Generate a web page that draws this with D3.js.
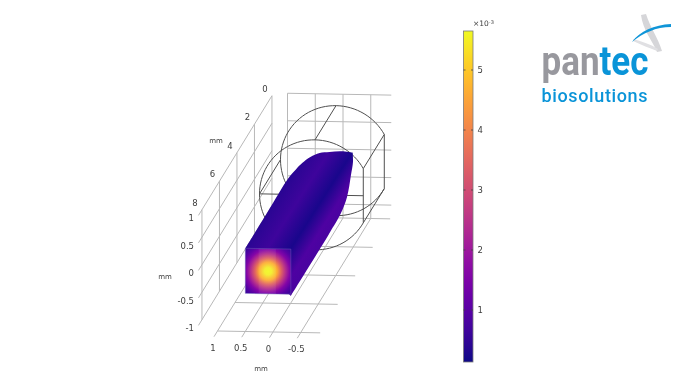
<!DOCTYPE html>
<html lang="en">
<head>
  <title>Pantec biosolutions temperature plot</title>
  <meta charset="UTF-8">
  <script src="https://cdn.jsdelivr.net/npm/d3@7"></script>
  <style>
  html, body { margin: 0; padding: 0; background: #fff; }
  svg { display: block; filter: blur(0.4px); }
  text { font-family: "DejaVu Sans", sans-serif; fill: #3c3c3c; }
  </style>
</head>
<body>
<svg id="chart" width="684" height="384"></svg>
<script>
// tick labels
const xTicks = [1, 0.5, 0, -0.5];
const yTicks = [0, 2, 4, 6, 8];
const zTicks = [1, 0.5, 0, -0.5, -1];
const colorTicks = [1, 2, 3, 4, 5];

// colour range of the legend, in 10^-3
const colorDomain = [0.133, 5.65];

// values across the long side of the bar (left edge to right edge)
const sideValues = [0.41, 0.63, 0.24, 0.85, 0.8];
const sideOffsets = [0, 0.3, 0.61, 0.85, 1];

// values of the front face, centre to corner
const faceValues = [5.65, 5.5, 4.6, 3.4, 2.4, 1.6, 1.0, 0.65];
const faceOffsets = [0, 0.12, 0.3, 0.44, 0.58, 0.72, 0.87, 1];

// bar section and outline in mm [x, y, z]
const faceHalf = 0.41;
const faceY = 8.56;
const bodyTop = [[0.41, 8.56, 0.41], [0.41, 6, 0.41], [0.41, 3.63, 0.41], [0.37, 2.99, 0.41], [0.33, 2.57, 0.41], [0.25, 2.14, 0.41], [0.13, 1.85, 0.41], [-0.036, 1.77, 0.41], [-0.245, 1.71, 0.41], [-0.41, 1.49, 0.33]];
const bodyRight = [[-0.41, 1.49, 0.33], [-0.41, 1.46, 0.154], [-0.41, 1.69, -0.023], [-0.41, 2.14, -0.306], [-0.41, 2.83, -0.419], [-0.41, 4.2, -0.444], [-0.41, 8.57, -0.44]];

// cylinder wireframe
const cylRadius = 1;
const cylFlatX = -0.87;
const cylBackY = 0.8;
const cylFrontY = 3.2;

// grid box limits
const wallX = 1.28;
const wallDrop = 0.05;
const floorZ = -1.25;
const gridYFar = 8.4;
const gridXEnd = -0.85;

const svg = d3.select('#chart');
const defs = svg.append('defs');

// oblique view: each axis has its own screen vector
const xH = d3.scaleLinear().domain([0, 1]).range([0, -55.5]);
const xV = d3.scaleLinear().domain([0, 1]).range([0, -1]);
const yH = d3.scaleLinear().domain([0, 1]).range([0, -8.75]);
const yV = d3.scaleLinear().domain([0, 1]).range([0, 14.25]);
const zV = d3.scaleLinear().domain([0, 1]).range([0, -55]);
const origin = [343, 149.25];
const project = ([x, y, z]) => [origin[0] + xH(x) + yH(y), origin[1] + xV(x) + yV(y) + zV(z)];
const line = d3.line().x(d => project(d)[0]).y(d => project(d)[1]);

const color = d3.scaleSequential(d3.interpolatePlasma).domain(colorDomain);

function segments(group, segs, stroke, width) {
  group.selectAll(null).data(segs).enter().append('path')
    .attr('d', d => line(d))
    .attr('fill', 'none')
    .attr('stroke', stroke)
    .attr('stroke-width', width);
}

// Grid
const grid = svg.append('g');
const gridSegs = [];
zTicks.forEach(z => gridSegs.push([[wallX, gridYFar, z - wallDrop], [wallX, 0, z - wallDrop]]));
yTicks.forEach(y => gridSegs.push([[wallX, y, 1 - wallDrop], [wallX, y, -1 - wallDrop]]));
yTicks.forEach(y => gridSegs.push([[1, y, floorZ], [gridXEnd, y, floorZ]]));
xTicks.forEach(x => gridSegs.push([[x, gridYFar, floorZ], [x, 0, floorZ]]));
zTicks.forEach(z => gridSegs.push([[1, 0, z], [gridXEnd - 0.02, 0, z]]));
xTicks.forEach(x => gridSegs.push([[x, 0, 1], [x, 0, floorZ]]));
segments(grid, gridSegs, '#b8b8b8', 1);

// Cylinder with one flat side
const flatAngle = Math.acos(cylFlatX / cylRadius);
const circleAngles = d3.range(-flatAngle, flatAngle + 0.001, (2 * flatAngle) / 80);
const cylOutline = y => circleAngles.map(a => [cylRadius * Math.cos(a), y, cylRadius * Math.sin(a)]);
const flatZ = Math.sqrt(cylRadius * cylRadius - cylFlatX * cylFlatX);
const wire = svg.append('g');
const wireSegs = [];
[cylBackY, cylFrontY].forEach(y => {
  const pts = cylOutline(y);
  wireSegs.push(pts.concat([pts[0]]));
});
wireSegs.push([[0, cylBackY, cylRadius], [0, cylFrontY, cylRadius]]);
wireSegs.push([[cylRadius, cylBackY, 0], [cylRadius, cylFrontY, 0]]);
wireSegs.push([[cylFlatX, cylBackY, flatZ], [cylFlatX, cylFrontY, flatZ]]);
wireSegs.push([[cylFlatX, cylBackY, -flatZ], [cylFlatX, cylFrontY, -flatZ]]);
wireSegs.push([[cylRadius, cylFrontY, 0], [cylFlatX, cylFrontY, 0]]);
segments(wire, wireSegs, '#4f4f4f', 1);

// Bar side, coloured across its width
const ridgeDir = [97, 62];
const ridgeLen = Math.hypot(ridgeDir[0], ridgeDir[1]);
const frontLeft = project([faceHalf, faceY, faceHalf]);
const frontRight = project([-faceHalf, faceY, -faceHalf]);
const distance = ((frontRight[0] - frontLeft[0]) * ridgeDir[0] + (frontRight[1] - frontLeft[1]) * ridgeDir[1]) / ridgeLen;
const sideGrad = defs.append('linearGradient').attr('id', 'side-grad')
  .attr('gradientUnits', 'userSpaceOnUse')
  .attr('x1', frontLeft[0]).attr('y1', frontLeft[1])
  .attr('x2', frontLeft[0] + distance * ridgeDir[0] / ridgeLen)
  .attr('y2', frontLeft[1] + distance * ridgeDir[1] / ridgeLen);
sideGrad.selectAll('stop').data(sideValues).enter().append('stop')
  .attr('offset', (d, i) => sideOffsets[i])
  .attr('stop-color', d => color(d));

const smooth = d3.line().x(d => project(d)[0]).y(d => project(d)[1]).curve(d3.curveCatmullRom.alpha(0.5));
svg.append('path')
  .attr('d', smooth(bodyTop) + smooth(bodyRight).replace('M', 'L') + 'Z')
  .attr('fill', 'url(#side-grad)');

// Front face
const faceCorners = [[faceHalf, faceY, faceHalf], [-faceHalf, faceY, faceHalf], [-faceHalf, faceY, -faceHalf], [faceHalf, faceY, -faceHalf]];
const faceCentre = project([0, faceY, 0]);
const faceGrad = defs.append('radialGradient').attr('id', 'face-grad')
  .attr('gradientUnits', 'userSpaceOnUse')
  .attr('cx', faceCentre[0]).attr('cy', faceCentre[1]).attr('r', 30);
faceGrad.selectAll('stop').data(faceValues).enter().append('stop')
  .attr('offset', (d, i) => faceOffsets[i])
  .attr('stop-color', d => color(d));
svg.append('path')
  .attr('d', line(faceCorners) + 'Z')
  .attr('fill', 'url(#face-grad)');
// lighter middle facet of the face
svg.append('path')
  .attr('d', line([[0.17, faceY, faceHalf], [-0.14, faceY, faceHalf], [-0.14, faceY, -faceHalf], [0.17, faceY, -faceHalf]]) + 'Z')
  .attr('fill', '#fff').attr('opacity', 0.07);
svg.append('path')
  .attr('d', line(faceCorners) + 'Z')
  .attr('fill', 'none').attr('stroke', '#6a5bb5').attr('stroke-width', 0.5);

// Axis labels
const labels = svg.append('g').attr('font-size', 8.5);
labels.selectAll('.y-label').data(yTicks).enter().append('text')
  .attr('text-anchor', 'middle')
  .attr('x', d => project([wallX, d, 1 - wallDrop])[0] - 7)
  .attr('y', d => project([wallX, d, 1 - wallDrop])[1] - 4)
  .text(d => d);
labels.selectAll('.z-label').data(zTicks).enter().append('text')
  .attr('text-anchor', 'end')
  .attr('x', 194)
  .attr('y', d => project([wallX, gridYFar, d - wallDrop])[1] + 6)
  .text(d => d);
labels.selectAll('.x-label').data(xTicks).enter().append('text')
  .attr('text-anchor', 'middle')
  .attr('x', d => project([d, gridYFar, floorZ])[0] - 1)
  .attr('y', d => project([d, gridYFar, floorZ])[1] + 14)
  .text(d => d);
[['mm', 216, 143], ['mm', 165, 279], ['mm', 261, 371]].forEach(d => {
  svg.append('text').attr('font-size', 7).attr('text-anchor', 'middle')
    .attr('x', d[1]).attr('y', d[2]).text(d[0]);
});

// Colour legend
const barX = 463.5, barW = 9.5, barTop = 31, barBottom = 362;
const legendY = d3.scaleLinear().domain([1, 5]).range([310, 70]);
const legendGrad = defs.append('linearGradient').attr('id', 'legend-grad')
  .attr('x1', 0).attr('y1', 1).attr('x2', 0).attr('y2', 0);
legendGrad.selectAll('stop').data(d3.range(0, 1.001, 0.05)).enter().append('stop')
  .attr('offset', d => d)
  .attr('stop-color', d => d3.interpolatePlasma(d));
svg.append('rect')
  .attr('x', barX).attr('y', barTop).attr('width', barW).attr('height', barBottom - barTop)
  .attr('fill', 'url(#legend-grad)').attr('stroke', '#7a7a7a').attr('stroke-width', 0.8);
const legendTicks = svg.append('g').selectAll('g').data(colorTicks).enter().append('g');
legendTicks.append('path')
  .attr('d', d => `M${barX},${legendY(d)}h2M${barX + barW - 2},${legendY(d)}h2`)
  .attr('stroke', '#444').attr('stroke-width', 0.8);
legendTicks.append('text')
  .attr('font-size', 8.5).attr('x', 477.5).attr('y', d => legendY(d) + 3)
  .text(d => d);
const expo = svg.append('text').attr('font-size', 7.5).attr('x', 473).attr('y', 26);
expo.append('tspan').text('×10');
expo.append('tspan').attr('font-size', 5).attr('dy', -2.5).text('-3');

// Logo
const logo = svg.append('g');
logo.append('path')
  .attr('d', 'M641,15 L646,14 C650,27 658,38 662,51 L657,52 C652,40 643,30 641,15Z')
  .attr('fill', '#d6d6d9');
logo.append('path')
  .attr('d', 'M633,39 C641,41 650,44 658,49 L657,51 C650,48 641,45 633,41Z')
  .attr('fill', '#e0e0e3');
logo.append('path')
  .attr('d', 'M632,42 C640,31 654,25 671,24 L671,27 C656,27 643,33 632,42Z')
  .attr('fill', '#0f95d8');
const wordmark = logo.append('text')
  .attr('x', 541.5).attr('y', 75).attr('textLength', 107).attr('lengthAdjust', 'spacingAndGlyphs')
  .style('font-family', 'Roboto').style('font-size', '40px').style('font-weight', 700);
wordmark.append('tspan').style('fill', '#98989e').text('pan');
wordmark.append('tspan').style('fill', '#0a94d8').text('tec');
logo.append('text')
  .attr('x', 541.5).attr('y', 101.5).attr('textLength', 106).attr('lengthAdjust', 'spacing')
  .style('font-family', 'Roboto').style('font-size', '18px').style('font-weight', 500).style('fill', '#0a94d8')
  .text('biosolutions');
</script>
</body>
</html>
